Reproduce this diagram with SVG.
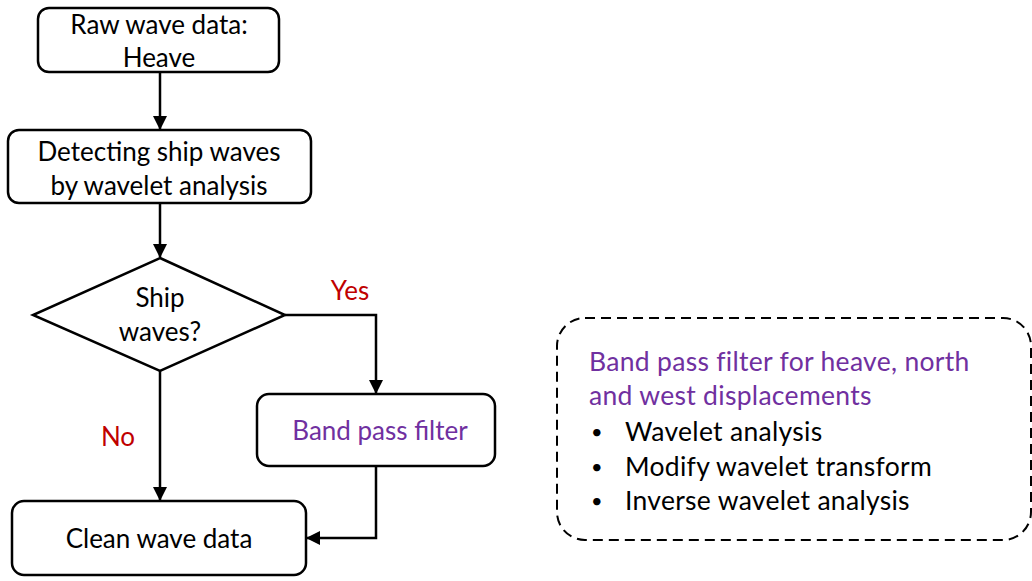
<svg xmlns="http://www.w3.org/2000/svg" width="1032" height="581" viewBox="0 0 1032 581">
<defs>
<marker id="ah" markerWidth="14" markerHeight="14" refX="13" refY="7" orient="auto" markerUnits="userSpaceOnUse" viewBox="0 0 14 14">
<path d="M0,0 L14,7 L0,14 z" fill="#000"/>
</marker>
<style>
.box{fill:#fff;stroke:#000;stroke-width:2.5}
.t{font-family:Lato,"Open Sans","Liberation Sans",sans-serif;font-size:26px;fill:#000;text-anchor:middle}
.n{font-size:26.5px;letter-spacing:0.3px}
.s{text-anchor:start}
.b{font-size:20px}
.p{fill:#7030A0}
.r{fill:#C00000}
.c{fill:none;stroke:#000;stroke-width:2.5}
</style>
</defs>
<rect width="1032" height="581" fill="#fff"/>
<g id="connectors">
<path class="c" d="M160,72 L160,129" marker-end="url(#ah)"/>
<path class="c" d="M160,203 L160,257" marker-end="url(#ah)"/>
<path class="c" d="M285,315 L376,315 L376,393" marker-end="url(#ah)"/>
<path class="c" d="M160,371 L160,500" marker-end="url(#ah)"/>
<path class="c" d="M376,466 L376,538 L307,538" marker-end="url(#ah)"/>
<text class="t r" x="350" y="300">Yes</text>
<text class="t r" x="118" y="446">No</text>
</g>
<g id="raw">
<rect class="box" x="38" y="8" width="241" height="64" rx="11"/>
<text class="t" x="159" y="34">Raw wave data:</text>
<text class="t" x="159" y="67">Heave</text>
</g>
<g id="detect">
<rect class="box" x="8" y="130" width="303" height="73" rx="11"/>
<text class="t" x="159" y="161">Detecting ship waves</text>
<text class="t" x="159" y="195">by wavelet analysis</text>
</g>
<g id="decision">
<polygon class="box" points="160,258 285,315 160,371 33,315"/>
<text class="t" x="160" y="307">Ship</text>
<text class="t" x="160" y="341">waves?</text>
</g>
<g id="bandpass">
<rect class="box" x="257" y="394" width="238" height="72" rx="12"/>
<text class="t p" x="380" y="440">Band pass filter</text>
</g>
<g id="clean">
<rect class="box" x="12" y="501" width="294" height="74" rx="12"/>
<text class="t" x="159" y="548">Clean wave data</text>
</g>
<g id="note">
<rect x="557" y="318" width="474" height="222" rx="28" fill="none" stroke="#000" stroke-width="2" stroke-dasharray="10,6"/>
<text class="t n p s" x="589" y="371">Band pass filter for heave, north</text>
<text class="t n p s" x="589" y="405">and west displacements</text>
<text class="t b s" x="591" y="439">•</text>
<text class="t n s" x="625" y="441">Wavelet analysis</text>
<text class="t b s" x="591" y="474">•</text>
<text class="t n s" x="625" y="476">Modify wavelet transform</text>
<text class="t b s" x="591" y="508">•</text>
<text class="t n s" x="625" y="510">Inverse wavelet analysis</text>
</g>
</svg>
